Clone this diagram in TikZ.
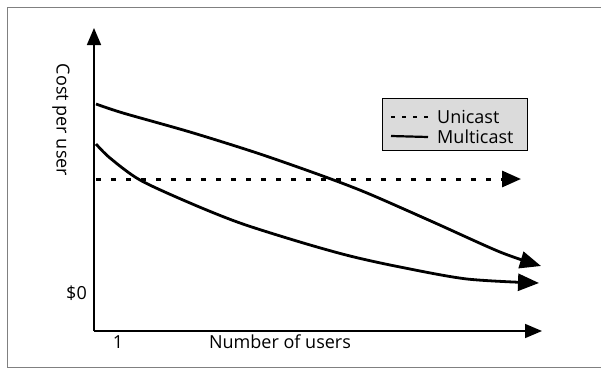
\documentclass[tikz,border=0pt]{standalone}
\usepackage{fontspec}
\setmainfont{Open Sans}
\usepackage{tikz}
\usetikzlibrary{arrows.meta, positioning}

\begin{document}
\begin{tikzpicture}[x=1pt, y=-1pt,
    axis/.style={line width=1.6pt, -{Triangle[length=17pt, width=14pt]}},
    curve/.style={line width=2.8pt, -{Triangle[length=21pt, width=17pt]}},
    unicast/.style={line width=3pt, dash pattern=on 5pt off 10pt},
    lbl/.style={font=\fontsize{18}{20}\selectfont, inner sep=0pt},
    legbox/.style={draw, line width=1pt, fill=black!14}]
    \useasboundingbox (0,0) rectangle (601,372);
    % Define frame
    \draw[black!50, line width=0.7pt] (601,7) -- (7,7) -- (7,367) -- (601,367);

    % Define axes
    \coordinate (origin) at (94,331);
    \coordinate (ytop) at (94,28);
    \coordinate (xend) at (542,331);
    \draw[axis] (origin) -- (ytop);
    \draw[axis] (origin) -- (xend);

    % Define labels
    \node[lbl, rotate=-90] (ylab) at (61,120) {Cost per user};
    \node[lbl, anchor=east] (zero) at (87,293) {\$0};
    \node[lbl] (one) at (118,342) {1};
    \node[lbl] (xlab) at (280,342) {Number of users};

    % Define curves
    \coordinate (uni0) at (96,179);
    \coordinate (uni1) at (521,179);
    \draw[unicast, -{Triangle[length=19pt, width=16pt]}] (uni0) -- (uni1);
    \draw[curve] plot[smooth] coordinates {(96,104) (123,113) (190,132)
        (257,153) (320,175) (367,193) (433,222) (500,252) (541,266)};
    \draw[curve] plot[smooth] coordinates {(96,144) (110,158) (140,180)
        (190,203) (240,223) (300,242) (350,256) (400,267) (467,279) (539,283)};

    % Define legend
    \node[legbox, minimum width=145pt, minimum height=52pt] (legend) at (454.5,124) {};
    \node[lbl, anchor=west] (unitxt) at (437,117) {Unicast};
    \node[lbl, anchor=west] (multitxt) at (437,137) {Multicast};
    \coordinate (u0) at (391,117);
    \coordinate (m0) at (391,136);
    \draw[line width=2.6pt, dash pattern=on 4pt off 7pt] (u0) -- ([xshift=-9pt]unitxt.west);
    \draw[line width=2.2pt] (m0) -- ([xshift=-9pt]multitxt.west);
\end{tikzpicture}
\end{document}
